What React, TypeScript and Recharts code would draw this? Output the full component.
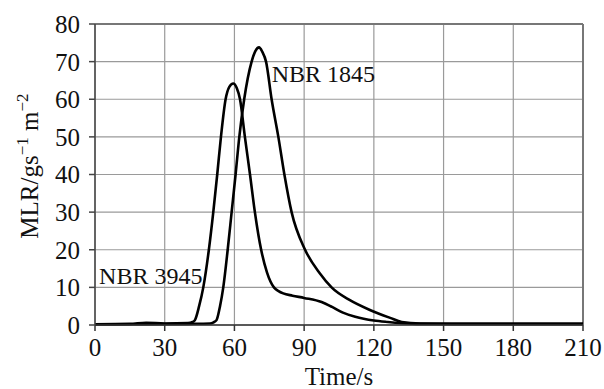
import React from "react";
import {
    LineChart, Line, XAxis, YAxis, CartesianGrid, ReferenceLine, ReferenceDot
} from "recharts";

// time (s) / mass loss rate (g s^-1 m^-2)
const nbr3945Time = [0, 15, 22, 30, 40, 42, 43, 44.8, 46.6, 49, 50.9, 52.6, 54.2, 56.2, 57.8, 59.5, 61, 62.4, 64.5, 66.7, 68.8, 71.5, 74, 77, 79, 81, 85, 90, 97.5, 102, 106.7, 112, 120, 126, 132, 140, 160, 180, 210];
const nbr3945Mlr = [0.2, 0.3, 0.6, 0.4, 0.5, 0.8, 1.3, 5, 10, 20, 30, 40, 50, 60, 63.3, 64.2, 63, 60, 50, 40, 30, 20, 14, 10, 9, 8.4, 7.8, 7.2, 6.1, 4.8, 3.3, 2.2, 1.2, 0.8, 0.5, 0.3, 0.3, 0.3, 0.3];

const nbr1845Time = [0, 20, 40, 49.5, 51, 52.3, 53.8, 55.2, 57.1, 58.8, 60.5, 62.1, 64.2, 67.4, 69, 70.6, 72, 73.6, 76, 78.9, 81.5, 84.6, 90.4, 96.8, 101.8, 109.7, 118.3, 127, 132, 140, 160, 210];
const nbr1845Mlr = [0.2, 0.2, 0.3, 0.4, 0.7, 1.3, 5, 10, 20, 30, 40, 50, 60, 70, 72.8, 73.8, 72.6, 70, 60, 50, 40, 30, 20, 13.7, 10, 6.6, 4, 1.9, 0.8, 0.4, 0.3, 0.3];

const xTicks = [0, 30, 60, 90, 120, 150, 180, 210];
const yTicks = [0, 10, 20, 30, 40, 50, 60, 70, 80];

const data3945 = nbr3945Time.map((t, i) => ({ t, v: nbr3945Mlr[i] }));
const data1845 = nbr1845Time.map((t, i) => ({ t, v: nbr1845Mlr[i] }));

const FONT = "'Liberation Serif', 'Times New Roman', serif";

const YTitle = () => (
    <text
        x={0}
        y={0}
        transform="translate(38, 166) rotate(-90)"
        textAnchor="middle"
        fontFamily={FONT}
        fontSize={25}
        fill="#111"
    >
        MLR/gs
        <tspan fontSize={17} dy={-10}>−1</tspan>
        <tspan dy={10}> m</tspan>
        <tspan fontSize={17} dy={-10}>−2</tspan>
    </text>
);

const seriesLabel = (text: string) => (props: any) => {
    const vb = props.viewBox || {};
    return (
        <text x={vb.x} y={vb.y} fontFamily={FONT} fontSize={24} fill="#111" textAnchor="start">
            {text}
        </text>
    );
};

export default function App() {
    return (
        <div>
            <style>{`body{margin:0}`}</style>
            <LineChart
                width={604}
                height={389}
                margin={{ top: 24, right: 21, left: 0, bottom: 0 }}
                style={{ fontFamily: FONT }}
            >
                <CartesianGrid stroke="#9a9a9a" strokeWidth={1.2} />
                <XAxis
                    type="number"
                    dataKey="t"
                    domain={[0, 210]}
                    ticks={xTicks}
                    height={64}
                    tickSize={6}
                    tickMargin={7}
                    stroke="#333"
                    strokeWidth={1.5}
                    tick={{ fill: "#111", fontSize: 25, fontFamily: FONT }}
                    label={{ value: "Time/s", position: "insideBottom", offset: 4, fill: "#111", fontSize: 25, fontFamily: FONT }}
                    allowDataOverflow
                />
                <YAxis
                    type="number"
                    domain={[0, 80]}
                    ticks={yTicks}
                    width={95}
                    tickSize={6}
                    tickMargin={9}
                    stroke="#444"
                    strokeWidth={1.5}
                    tick={{ fill: "#111", fontSize: 25, fontFamily: FONT }}
                    label={{ content: () => <YTitle /> }}
                />
                <ReferenceLine y={80} stroke="#777" strokeWidth={2} />
                <ReferenceLine x={210} stroke="#777" strokeWidth={2} />
                <Line
                    data={data3945}
                    dataKey="v"
                    type="monotone"
                    stroke="#000"
                    strokeWidth={2.6}
                    dot={false}
                    isAnimationActive={false}
                />
                <Line
                    data={data1845}
                    dataKey="v"
                    type="monotone"
                    stroke="#000"
                    strokeWidth={2.6}
                    dot={false}
                    isAnimationActive={false}
                />
                <ReferenceDot x={76.5} y={64.3} r={1} fill="none" stroke="none" label={{ content: seriesLabel("NBR 1845") }} />
                <ReferenceDot x={2.2} y={10.6} r={1} fill="none" stroke="none" label={{ content: seriesLabel("NBR 3945") }} />
            </LineChart>
        </div>
    );
}
